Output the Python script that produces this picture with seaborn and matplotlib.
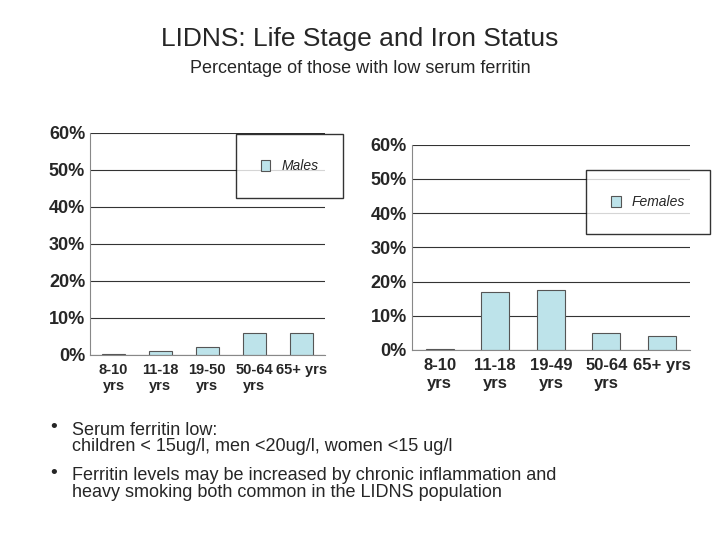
import matplotlib
matplotlib.use("Agg")
import matplotlib.pyplot as plt
import seaborn as sns
import pandas as pd
from matplotlib.ticker import PercentFormatter

sns.set_style("white")
plt.rcParams['font.family'] = ['Liberation Sans', 'DejaVu Sans']

male_groups = ["8-10\nyrs", "11-18\nyrs", "19-50\nyrs", "50-64\nyrs", "65+ yrs"]
male_vals = [0.3, 1, 2, 6, 6]
female_groups = ["8-10\nyrs", "11-18\nyrs", "19-49\nyrs", "50-64\nyrs", "65+ yrs"]
female_vals = [0.3, 17, 17.5, 5, 4]
bar_color = "#bde3ea"

fig = plt.figure(figsize=(7.2, 5.4), dpi=100)
fig.text(0.5, 0.915, "LIDNS: Life Stage and Iron Status", ha="center", fontsize=19)
fig.text(0.5, 0.865, "Percentage of those with low serum ferritin", ha="center", fontsize=13)

def panel(rect, groups, vals, label, legpos, xsize):
    ax = fig.add_axes(rect)
    df = pd.DataFrame({"group": groups, "value": vals})
    sns.barplot(data=df, x="group", y="value", color=bar_color, width=0.5,
                edgecolor="#555555", linewidth=0.8, saturation=1, ax=ax, label=label)
    ax.set_ylim(0, 60)
    ax.set_yticks(range(0, 61, 10))
    ax.yaxis.set_major_formatter(PercentFormatter(decimals=0))
    ax.yaxis.grid(True, color="#333333", linewidth=0.8)
    ax.set_axisbelow(True)
    ax.set_xlabel("")
    ax.set_ylabel("")
    for s in ["top", "right"]:
        ax.spines[s].set_visible(False)
    ax.spines["left"].set_color("#888888")
    ax.spines["bottom"].set_color("#888888")
    ax.tick_params(axis="y", length=0, labelsize=13)
    ax.tick_params(axis="x", length=0, labelsize=xsize, pad=6)
    for t in ax.get_xticklabels() + ax.get_yticklabels():
        t.set_fontweight("bold")
    ax.legend(loc="center", bbox_to_anchor=legpos, frameon=True, fancybox=False,
              edgecolor="black", prop={"style": "italic", "size": 10},
              handlelength=0.7, handleheight=0.9, borderpad=1.8)
    return ax

panel([0.125, 0.343, 0.326, 0.411], male_groups, male_vals, "Males", (0.85, 0.85), 10.5)
panel([0.572, 0.352, 0.386, 0.38], female_groups, female_vals, "Females", (0.85, 0.72), 12)

fig.text(0.07, 0.2, "•", fontsize=14)
fig.text(0.1, 0.165, "Serum ferritin low:\nchildren < 15ug/l, men <20ug/l, women <15 ug/l",
         fontsize=13, linespacing=0.95)
fig.text(0.07, 0.115, "•", fontsize=14)
fig.text(0.1, 0.08, "Ferritin levels may be increased by chronic inflammation and\nheavy smoking both common in the LIDNS population",
         fontsize=13, linespacing=0.95)

fig.savefig("out.png", dpi=100)
